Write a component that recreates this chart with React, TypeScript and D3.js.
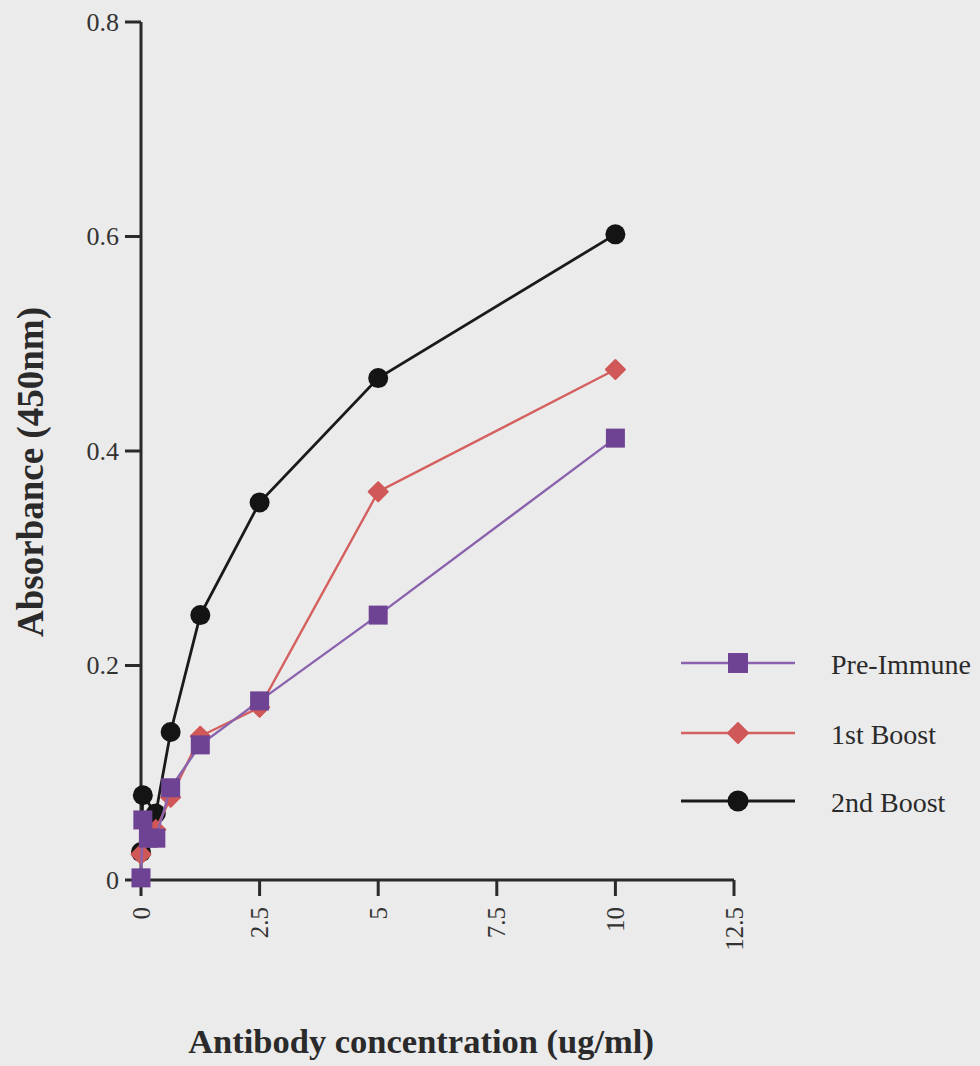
import React from 'react';
import * as d3 from 'd3';

const xTicks = [0, 2.5, 5, 7.5, 10, 12.5];
const xTickLabels = ['0', '2.5', '5', '7.5', '10', '12.5'];
const yTicks = [0, 0.2, 0.4, 0.6, 0.8];
const yTickLabels = ['0', '0.2', '0.4', '0.6', '0.8'];

const preImmuneConc = [10, 5, 2.5, 1.25, 0.625, 0.3125, 0.156, 0.039, 0];
const preImmuneAbs = [0.412, 0.247, 0.167, 0.126, 0.086, 0.039, 0.039, 0.056, 0.002];
const boost1Conc = [10, 5, 2.5, 1.25, 0.625, 0.3125, 0];
const boost1Abs = [0.476, 0.362, 0.161, 0.134, 0.077, 0.047, 0.024];
const boost2Conc = [10, 5, 2.5, 1.25, 0.625, 0.3125, 0.039, 0];
const boost2Abs = [0.602, 0.468, 0.352, 0.247, 0.138, 0.062, 0.079, 0.026];
const seriesNames = ['Pre-Immune', '1st Boost', '2nd Boost'];

const W = 980;
const H = 1066;
const FONT = '"Liberation Serif", "Times New Roman", serif';
const BG = '#ebebeb';

const series = [
  { name: seriesNames[2], conc: boost2Conc, abs: boost2Abs, line: '#1a1a1a', fill: '#141414', shape: 'circle', lw: 2.8 },
  { name: seriesNames[1], conc: boost1Conc, abs: boost1Abs, line: '#d4605f', fill: '#d05858', shape: 'diamond', lw: 2.4 },
  { name: seriesNames[0], conc: preImmuneConc, abs: preImmuneAbs, line: '#8a62ad', fill: '#6f4393', shape: 'square', lw: 2.4 },
];

function Marker({ shape, cx, cy, fill, scale = 1 }: { shape: string; cx: number; cy: number; fill: string; scale?: number }) {
  if (shape === 'circle') return <circle cx={cx} cy={cy} r={10 * scale} fill={fill} />;
  if (shape === 'square') {
    const s = 19 * scale;
    return <rect x={cx - s / 2} y={cy - s / 2} width={s} height={s} fill={fill} />;
  }
  const d = 9.5 * scale;
  return <path d={`M${cx},${cy - d}L${cx + d},${cy}L${cx},${cy + d}L${cx - d},${cy}Z`} fill={fill} stroke={fill} strokeWidth={2} strokeLinejoin="round" />;
}

export default function App() {
  React.useEffect(() => {
    document.body.style.margin = '0';
    document.body.style.background = BG;
  }, []);
  const x = d3.scaleLinear().domain([0, 12.5]).range([141, 734]);
  const y = d3.scaleLinear().domain([0, 0.8]).range([880, 22]);
  const line = d3.line<[number, number]>().x(d => x(d[0])).y(d => y(d[1]));
  const axisColor = '#2a2a2a';
  const legendX1 = 681, legendX2 = 795, legendMid = 738, legendText = 831;
  const legendY = [663, 733, 801];
  const legendOrder = [series[2], series[1], series[0]];

  return (
    <svg width={W} height={H} style={{ position: 'absolute', left: 0, top: 0, display: 'block' }} fontFamily={FONT}>
      <rect x={0} y={0} width={W} height={H} fill={BG} />
      {/* axes */}
      <line x1={x(0)} y1={y(0.8)} x2={x(0)} y2={y(0)} stroke={axisColor} strokeWidth={3} />
      <line x1={x(0)} y1={y(0)} x2={x(12.5)} y2={y(0)} stroke={axisColor} strokeWidth={3} />
      {yTicks.map((t, i) => (
        <g key={'y' + i}>
          <line x1={x(0) - 16} x2={x(0)} y1={y(t)} y2={y(t)} stroke={axisColor} strokeWidth={3} />
          <text x={119} y={y(t)} textAnchor="end" dominantBaseline="central" fontSize={26} fill="#333">{yTickLabels[i]}</text>
        </g>
      ))}
      {xTicks.map((t, i) => (
        <g key={'x' + i}>
          <line x1={x(t)} x2={x(t)} y1={y(0)} y2={y(0) + 16} stroke={axisColor} strokeWidth={3} />
          <text transform={`translate(${x(t)},907) rotate(-90)`} textAnchor="end" dominantBaseline="central" fontSize={25} fill="#333">{xTickLabels[i]}</text>
        </g>
      ))}
      <text transform={`translate(30,472) rotate(-90)`} textAnchor="middle" dominantBaseline="central" fontSize={37} fontWeight="bold" fill="#2a2a2a">Absorbance (450nm)</text>
      <text x={421} y={1041} textAnchor="middle" dominantBaseline="central" fontSize={34.5} fontWeight="bold" fill="#2a2a2a">Antibody concentration (ug/ml)</text>
      {/* series */}
      {series.map(s => {
        const pts = s.conc.map((c, i) => [c, s.abs[i]] as [number, number]);
        return (
          <g key={s.name}>
            <path d={line(pts) || ''} fill="none" stroke={s.line} strokeWidth={s.lw} />
            {pts.map((p, i) => (
              <Marker key={i} shape={s.shape} cx={x(p[0])} cy={y(p[1])} fill={s.fill} />
            ))}
          </g>
        );
      })}
      {/* legend */}
      {legendOrder.map((s, i) => (
        <g key={'l' + i}>
          <line x1={legendX1} x2={legendX2} y1={legendY[i]} y2={legendY[i]} stroke={s.line} strokeWidth={s.lw} />
          <Marker shape={s.shape} cx={legendMid} cy={legendY[i]} fill={s.fill} scale={1.05} />
          <text x={legendText} y={legendY[i] + 1} dominantBaseline="central" fontSize={28} fill="#2a2a2a">{s.name}</text>
        </g>
      ))}
    </svg>
  );
}
